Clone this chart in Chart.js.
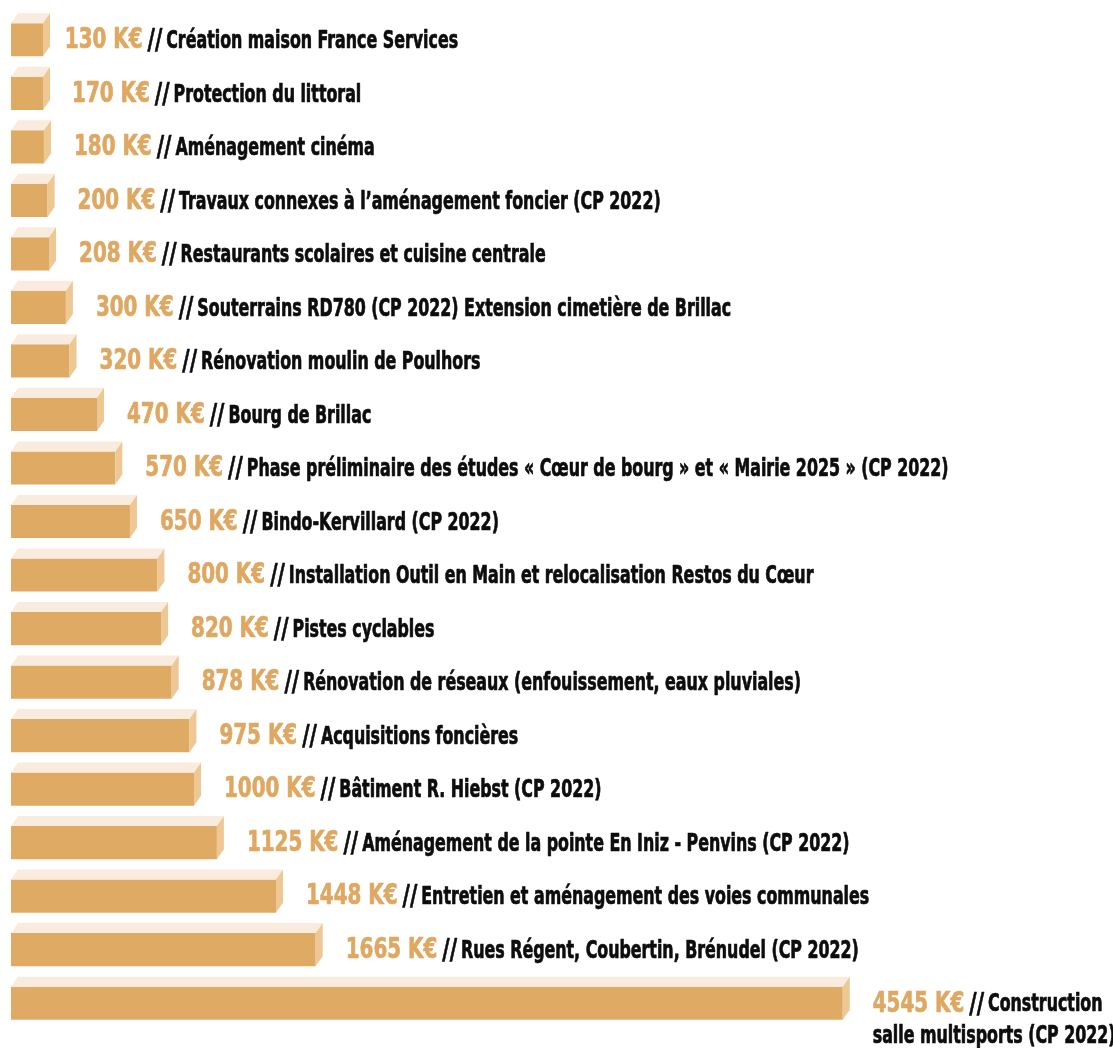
<!DOCTYPE html>
<html>
<head>
<meta charset="utf-8">
<script src="https://cdn.jsdelivr.net/npm/chart.js@4.4.1/dist/chart.umd.min.js"></script>
<style>
html,body{margin:0;padding:0;background:#fff;}
#wrap{width:1113px;height:1048px;position:relative;}
</style>
</head>
<body>
<div id="wrap"><canvas id="c" width="1113" height="1048"></canvas></div>
<script>
const values = [130,170,180,200,208,300,320,470,570,650,800,820,878,975,1000,1125,1448,1665,4545];
const valueLabels = ["130 K€","170 K€","180 K€","200 K€","208 K€","300 K€","320 K€","470 K€","570 K€","650 K€","800 K€","820 K€","878 K€","975 K€","1000 K€","1125 K€","1448 K€","1665 K€","4545 K€"];
const descriptions = [
  "Création maison France Services",
  "Protection du littoral",
  "Aménagement cinéma",
  "Travaux connexes à l’aménagement foncier (CP 2022)",
  "Restaurants scolaires et cuisine centrale",
  "Souterrains RD780 (CP 2022) Extension cimetière de Brillac",
  "Rénovation moulin de Poulhors",
  "Bourg de Brillac",
  "Phase préliminaire des études « Cœur de bourg » et « Mairie 2025 » (CP 2022)",
  "Bindo-Kervillard (CP 2022)",
  "Installation Outil en Main et relocalisation Restos du Cœur",
  "Pistes cyclables",
  "Rénovation de réseaux (enfouissement, eaux pluviales)",
  "Acquisitions foncières",
  "Bâtiment R. Hiebst (CP 2022)",
  "Aménagement de la pointe En Iniz - Penvins (CP 2022)",
  "Entretien et aménagement des voies communales",
  "Rues Régent, Coubertin, Brénudel (CP 2022)",
  "Construction\nsalle multisports (CP 2022)"
];
const categories = descriptions.map((d,i)=>"p"+i);

const FRONT = '#DFAA64', TOP = '#F9EBDD', SIDE = '#EDC894', VALUE_COLOR = '#DFA862', TEXT_COLOR = '#0d0d0d';
const FONT = "'DejaVu Sans Condensed','Liberation Sans Narrow',sans-serif";
const DX = 7, DY = 10;

function squeezed(ctx, text, x, y, sx, color) {
  ctx.save();
  ctx.translate(x, y);
  ctx.scale(sx, 1);
  ctx.fillStyle = color;
  ctx.strokeStyle = color;
  ctx.lineWidth = 0.7;
  ctx.lineJoin = 'round';
  ctx.fillText(text, 0, 0);
  ctx.strokeText(text, 0, 0);
  ctx.restore();
  return ctx.measureText(text).width * sx;
}

const boxPlugin = {
  id: 'box3d',
  afterDatasetsDraw(chart) {
    const ctx = chart.ctx;
    const meta = chart.getDatasetMeta(0);
    const xs = chart.scales.x;
    ctx.save();
    meta.data.forEach((bar, i) => {
      const x0 = bar.base, x1 = bar.x;
      const y0 = bar.y - bar.height/2, y1 = bar.y + bar.height/2;
      ctx.fillStyle = TOP;
      ctx.beginPath();
      ctx.moveTo(x0, y0); ctx.lineTo(x0+DX, y0-DY); ctx.lineTo(x1+DX, y0-DY); ctx.lineTo(x1, y0); ctx.closePath(); ctx.fill();
      ctx.fillStyle = SIDE;
      ctx.beginPath();
      ctx.moveTo(x1, y0); ctx.lineTo(x1+DX, y0-DY); ctx.lineTo(x1+DX, y1-DY); ctx.lineTo(x1, y1); ctx.closePath(); ctx.fill();

      const lx = xs.getPixelForValue(values[i]) + 30;
      const cy = bar.y + 1;
      ctx.textBaseline = 'middle';
      ctx.textAlign = 'left';
      ctx.font = "bold 28px " + FONT;
      const vw = squeezed(ctx, valueLabels[i], lx, cy, 0.79, VALUE_COLOR);
      ctx.font = "bold 28px " + FONT;
      const sw = squeezed(ctx, "//", lx + vw + 5, cy + 1, 0.8, TEXT_COLOR);
      ctx.font = "bold 24px " + FONT;
      const lines = descriptions[i].split("\n");
      squeezed(ctx, lines[0], lx + vw + 5 + sw + 4, cy + 1, 0.734, TEXT_COLOR);
      for (let k = 1; k < lines.length; k++) {
        squeezed(ctx, lines[k], lx, cy + 1 + 32*k, 0.734, TEXT_COLOR);
      }
    });
    ctx.restore();
  }
};

new Chart(document.getElementById('c'), {
  type: 'bar',
  data: {
    labels: categories,
    datasets: [{
      data: values,
      backgroundColor: FRONT,
      borderWidth: 0,
      barPercentage: 0.62,
      categoryPercentage: 1.0,
      minBarLength: 32
    }]
  },
  options: {
    indexAxis: 'y',
    responsive: false,
    animation: false,
    layout: { padding: { left: 11, right: 4, top: 13, bottom: 18 } },
    scales: {
      x: { display: false, min: 0, max: 6000 },
      y: { display: false }
    },
    plugins: { legend: { display: false }, tooltip: { enabled: false } }
  },
  plugins: [boxPlugin]
});
</script>
</body>
</html>
